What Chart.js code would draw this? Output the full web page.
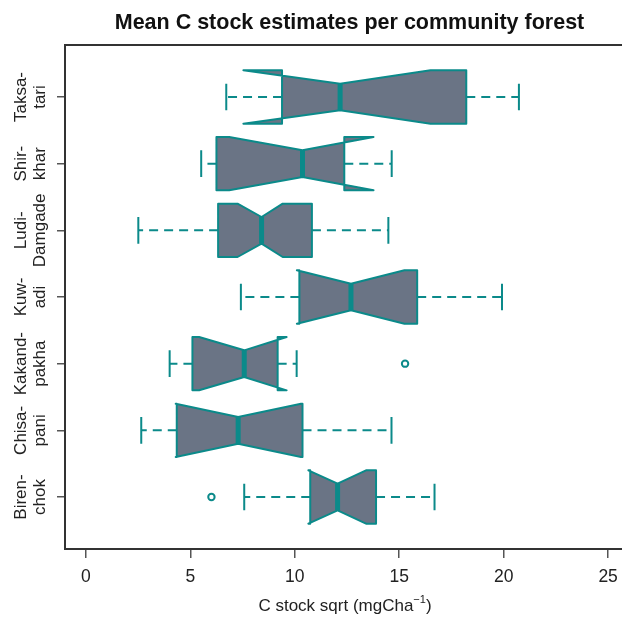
<!DOCTYPE html>
<html>
<head>
<meta charset="utf-8">
<script src="https://cdn.jsdelivr.net/npm/chart.js@4.4.0/dist/chart.umd.min.js"></script>
<style>
html, body { margin: 0; padding: 0; background: #fff; overflow: hidden; }
#wrap { width: 640px; height: 617px; }
</style>
</head>
<body>
<div id="wrap"><canvas id="myChart" width="640" height="617"></canvas></div>
<script>
// rows bottom to top
var forests = [["Biren-", "chok"], ["Chisa-", "pani"], ["Kakand-", "pakha"], ["Kuw-", "adi"], ["Ludi-", "Damgade"], ["Shir-", "khar"], ["Taksa-", "tari"]];
var whiskLo = [7.58, 2.65, 4.01, 7.42, 2.51, 5.52, 6.72];
var q1      = [10.74, 4.35, 5.10, 10.22, 6.33, 6.25, 9.39];
var notchLo = [10.65, 4.30, 5.42, 10.10, 7.26, 6.86, 7.54];
var median  = [12.05, 7.29, 7.58, 12.69, 8.41, 10.37, 12.17];
var notchHi = [13.41, 10.30, 9.61, 15.25, 9.42, 13.77, 16.50];
var q3      = [13.89, 10.37, 9.18, 15.86, 10.82, 12.37, 18.21];
var whiskHi = [16.69, 14.63, 10.09, 19.92, 14.48, 14.64, 20.73];
var outlierX   = [6.01, 15.28];
var outlierRow = [1, 3];
var xTicks = [0, 5, 10, 15, 20, 25];

var title = "Mean C stock estimates per community forest";
var xTitle = "C stock sqrt (mgCha";
var xTitleSup = "\u22121";

var teal = "#0b8a8a";
var slate = "#6a7485";
var ink = "#222";
var fontFam = "'Liberation Sans', Arial, sans-serif";

var outliers = outlierX.map(function (v, i) { return { x: v, y: outlierRow[i] }; });

var boxPlugin = {
    id: 'boxes',
    beforeDatasetsDraw: function (chart) {
        var ctx = chart.ctx;
        var xs = chart.scales.x, ys = chart.scales.y;
        ctx.save();
        for (var i = 0; i < forests.length; i++) {
            var y = ys.getPixelForValue(i + 1);
            var w = Math.abs(ys.getPixelForValue(i + 1.4) - y);
            var cap = w / 2;
            var px = function (v) { return xs.getPixelForValue(v); };
            ctx.strokeStyle = teal;
            // whiskers
            ctx.lineWidth = 2;
            ctx.setLineDash([9, 6]);
            ctx.beginPath();
            ctx.moveTo(px(q1[i]), y); ctx.lineTo(px(whiskLo[i]), y);
            ctx.moveTo(px(q3[i]), y); ctx.lineTo(px(whiskHi[i]), y);
            ctx.stroke();
            ctx.setLineDash([]);
            // staples
            ctx.beginPath();
            ctx.moveTo(px(whiskLo[i]), y - cap); ctx.lineTo(px(whiskLo[i]), y + cap);
            ctx.moveTo(px(whiskHi[i]), y - cap); ctx.lineTo(px(whiskHi[i]), y + cap);
            ctx.stroke();
            // notched box
            ctx.beginPath();
            ctx.moveTo(px(q1[i]), y - w);
            ctx.lineTo(px(notchLo[i]), y - w);
            ctx.lineTo(px(median[i]), y - w / 2);
            ctx.lineTo(px(notchHi[i]), y - w);
            ctx.lineTo(px(q3[i]), y - w);
            ctx.lineTo(px(q3[i]), y + w);
            ctx.lineTo(px(notchHi[i]), y + w);
            ctx.lineTo(px(median[i]), y + w / 2);
            ctx.lineTo(px(notchLo[i]), y + w);
            ctx.lineTo(px(q1[i]), y + w);
            ctx.closePath();
            ctx.fillStyle = slate;
            ctx.fill();
            ctx.lineJoin = 'round';
            ctx.lineWidth = 2;
            ctx.stroke();
            // median
            ctx.lineWidth = 5;
            ctx.beginPath();
            ctx.moveTo(px(median[i]), y - w / 2);
            ctx.lineTo(px(median[i]), y + w / 2);
            ctx.stroke();
        }
        ctx.restore();
    },
    afterDraw: function (chart) {
        var ctx = chart.ctx, a = chart.chartArea;
        var ys = chart.scales.y;
        ctx.save();
        // frame
        ctx.strokeStyle = "#333";
        ctx.lineWidth = 2;
        ctx.strokeRect(a.left, a.top, a.right - a.left, a.bottom - a.top);
        // category labels, rotated
        ctx.fillStyle = ink;
        ctx.font = "17px " + fontFam;
        ctx.textAlign = 'center';
        ctx.textBaseline = 'alphabetic';
        for (var i = 0; i < forests.length; i++) {
            var y = ys.getPixelForValue(i + 1);
            ctx.save();
            ctx.translate(0, y);
            ctx.rotate(-Math.PI / 2);
            ctx.fillText(forests[i][0], 0, 26);
            ctx.fillText(forests[i][1], 0, 45);
            ctx.restore();
        }
        // main title
        ctx.fillStyle = "#111";
        ctx.font = "bold 21.5px " + fontFam;
        ctx.fillText(title, 349.5, 28.5);
        ctx.fillStyle = ink;
        // x axis title with superscript
        ctx.font = "17px " + fontFam;
        var w1 = ctx.measureText(xTitle).width;
        ctx.font = "11px " + fontFam;
        var w2 = ctx.measureText(xTitleSup).width;
        ctx.font = "17px " + fontFam;
        var w3 = ctx.measureText(")").width;
        var x0 = 345 - (w1 + w2 + w3) / 2;
        ctx.textAlign = 'left';
        ctx.fillText(xTitle, x0, 611);
        ctx.font = "11px " + fontFam;
        ctx.fillText(xTitleSup, x0 + w1, 603);
        ctx.font = "17px " + fontFam;
        ctx.fillText(")", x0 + w1 + w2, 611);
        ctx.restore();
    }
};

var ctx = document.getElementById("myChart").getContext('2d');
var myChart = new Chart(ctx, {
    type: 'scatter',
    data: {
        datasets: [{
            label: 'outliers',
            data: outliers,
            pointStyle: 'circle',
            pointRadius: 3.2,
            borderColor: teal,
            borderWidth: 2,
            backgroundColor: 'rgba(0,0,0,0)'
        }]
    },
    options: {
        responsive: false,
        animation: false,
        layout: { padding: { top: 45, right: 11, left: 0, bottom: 0 } },
        plugins: { legend: { display: false }, tooltip: { enabled: false } },
        scales: {
            x: {
                type: 'linear',
                min: -1,
                max: 26,
                afterBuildTicks: function (scale) {
                    scale.ticks = xTicks.map(function (v) { return { value: v }; });
                },
                afterFit: function (scale) { scale.height = 68; },
                border: { display: false },
                grid: { drawOnChartArea: false, drawTicks: true, tickLength: 9, color: '#555', lineWidth: 1.5 },
                ticks: { color: ink, font: { family: fontFam, size: 17.5 }, padding: 9, maxRotation: 0 }
            },
            y: {
                type: 'linear',
                min: 0.22,
                max: 7.78,
                afterBuildTicks: function (scale) {
                    scale.ticks = forests.map(function (f, i) { return { value: i + 1 }; });
                },
                afterFit: function (scale) { scale.width = 65; },
                border: { display: false },
                grid: { drawOnChartArea: false, drawTicks: true, tickLength: 8, color: '#555', lineWidth: 1.5 },
                ticks: { display: false }
            }
        }
    },
    plugins: [boxPlugin]
});
</script>
</body>
</html>
